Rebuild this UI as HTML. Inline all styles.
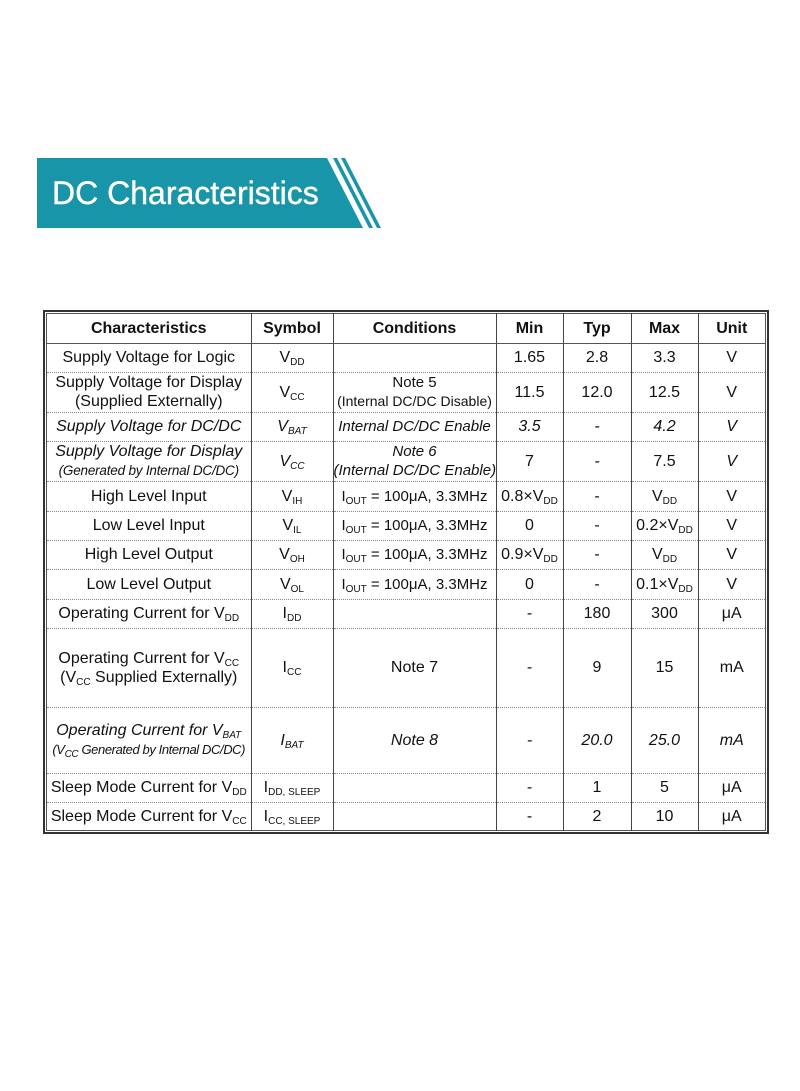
<!DOCTYPE html>
<html><head><meta charset="utf-8"><style>
body{margin:0;width:800px;height:1091px;background:#fff;position:relative;font-family:"Liberation Sans",sans-serif;overflow:hidden}
.ban{position:absolute;left:37px;top:158px;width:345px;height:70px}
.box{position:absolute;left:43px;top:310px;width:722px;height:520px;border:2px solid #333;box-shadow:inset 0 0 0 1px #fff, inset 0 0 0 2px #555}
table{position:absolute;left:47px;top:313px;width:718px;border-collapse:collapse;table-layout:fixed;font-size:16px;color:#111}
td{border-left:1px solid #444;border-right:1px solid #444;border-bottom:1px dotted #888;text-align:center;vertical-align:middle;padding:0;line-height:19px;white-space:nowrap;overflow:hidden}
tr:first-child td{font-weight:bold;border-bottom:1px solid #555;padding-top:2px}
tr:last-child td{border-bottom:none}
td:first-child{border-left:none} td:last-child{border-right:none}
sub{font-size:10px;vertical-align:-3px;line-height:0}
.i td{font-style:italic}
.s{font-size:13.5px;letter-spacing:-0.2px}
.s2{font-size:13px;letter-spacing:-0.4px}
.c{font-size:15px}
</style></head><body>
<svg class="ban" viewBox="0 0 345 70" width="345" height="70">
<polygon points="0,0 290,0 326,70 0,70" fill="#1895a8"/>
<polygon points="296,0 300,0 336,70 332,70" fill="#1895a8"/>
<polygon points="304,0 308,0 344,70 340,70" fill="#1895a8"/>
<text x="15" y="46" font-family="Liberation Sans, sans-serif" font-size="32" fill="#fff" stroke="#fff" stroke-width="0.4">DC Characteristics</text>
</svg>
<div class="box"></div>
<table>
<colgroup><col style="width:204px"><col style="width:82px"><col style="width:163px"><col style="width:67px"><col style="width:68px"><col style="width:67px"><col style="width:67px"></colgroup>
<tr style="height:30px"><td>Characteristics</td><td>Symbol</td><td>Conditions</td><td>Min</td><td>Typ</td><td>Max</td><td>Unit</td></tr>
<tr style="height:29px"><td>Supply Voltage for Logic</td><td>V<sub>DD</sub></td><td></td><td>1.65</td><td>2.8</td><td>3.3</td><td>V</td></tr>
<tr style="height:40px"><td>Supply Voltage for Display<br>(Supplied Externally)</td><td>V<sub>CC</sub></td><td class="c">Note 5<br><span style="font-size:14px">(Internal DC/DC Disable)</span></td><td>11.5</td><td>12.0</td><td>12.5</td><td>V</td></tr>
<tr class="i" style="height:29px"><td>Supply Voltage for DC/DC</td><td>V<sub>BAT</sub></td><td class="c">Internal DC/DC Enable</td><td>3.5</td><td>-</td><td>4.2</td><td>V</td></tr>
<tr class="i" style="height:40px"><td>Supply Voltage for Display<br><span class="s">(Generated by Internal DC/DC)</span></td><td>V<sub>CC</sub></td><td class="c">Note 6<br>(Internal DC/DC Enable)</td><td style="font-style:normal">7</td><td>-</td><td style="font-style:normal">7.5</td><td>V</td></tr>
<tr style="height:30px"><td>High Level Input</td><td>V<sub>IH</sub></td><td class="c">I<sub>OUT</sub> = 100μA, 3.3MHz</td><td>0.8×V<sub>DD</sub></td><td>-</td><td>V<sub>DD</sub></td><td>V</td></tr>
<tr style="height:29px"><td>Low Level Input</td><td>V<sub>IL</sub></td><td class="c">I<sub>OUT</sub> = 100μA, 3.3MHz</td><td>0</td><td>-</td><td>0.2×V<sub>DD</sub></td><td>V</td></tr>
<tr style="height:29px"><td>High Level Output</td><td>V<sub>OH</sub></td><td class="c">I<sub>OUT</sub> = 100μA, 3.3MHz</td><td>0.9×V<sub>DD</sub></td><td>-</td><td>V<sub>DD</sub></td><td>V</td></tr>
<tr style="height:30px"><td>Low Level Output</td><td>V<sub>OL</sub></td><td class="c">I<sub>OUT</sub> = 100μA, 3.3MHz</td><td>0</td><td>-</td><td>0.1×V<sub>DD</sub></td><td>V</td></tr>
<tr style="height:29px"><td>Operating Current for V<sub>DD</sub></td><td>I<sub>DD</sub></td><td></td><td>-</td><td>180</td><td>300</td><td>μA</td></tr>
<tr style="height:79px"><td>Operating Current for V<sub>CC</sub><br>(V<sub>CC</sub> Supplied Externally)</td><td>I<sub>CC</sub></td><td>Note 7</td><td>-</td><td>9</td><td>15</td><td>mA</td></tr>
<tr class="i" style="height:66px"><td>Operating Current for V<sub>BAT</sub><br><span class="s2">(V<sub>CC</sub> Generated by Internal DC/DC)</span></td><td>I<sub>BAT</sub></td><td>Note 8</td><td>-</td><td>20.0</td><td>25.0</td><td>mA</td></tr>
<tr style="height:29px"><td>Sleep Mode Current for V<sub>DD</sub></td><td>I<sub>DD, SLEEP</sub></td><td></td><td>-</td><td>1</td><td>5</td><td>μA</td></tr>
<tr style="height:29px"><td>Sleep Mode Current for V<sub>CC</sub></td><td>I<sub>CC, SLEEP</sub></td><td></td><td>-</td><td>2</td><td>10</td><td>μA</td></tr>
</table>
</body></html>
